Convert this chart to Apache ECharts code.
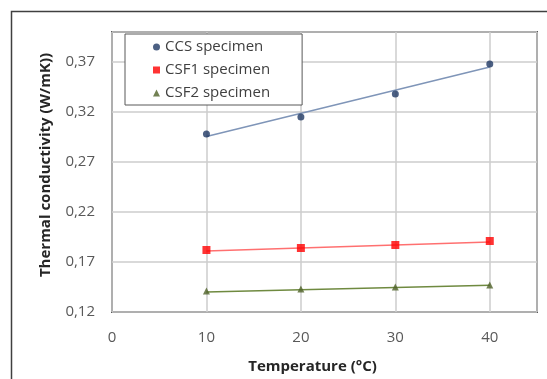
<!DOCTYPE html>
<html><head><meta charset="utf-8">
<script src="https://cdn.jsdelivr.net/npm/echarts@6/dist/echarts.min.js"></script>
<style>html,body{margin:0;padding:0;background:#fff}#c{width:547px;height:379px}</style>
</head><body><div id="c"></div>
<script>
const temperatures = [10, 20, 30, 40];
const ccsValues  = [0.298, 0.315, 0.338, 0.368];
const csf1Values = [0.182, 0.184, 0.187, 0.191];
const csf2Values = [0.141, 0.143, 0.145, 0.147];
// trend line end points (at 10 and 40 °C)
const trendX = [10, 40];
const ccsTrend  = [0.2955, 0.365];
const csf1Trend = [0.181, 0.190];
const csf2Trend = [0.140, 0.1467];
const seriesNames = ['CCS specimen', 'CSF1 specimen', 'CSF2 specimen'];
const xTickLabels = ['0', '10', '20', '30', '40'];
const yTickLabels = ['0,12', '0,17', '0,22', '0,27', '0,32', '0,37'];

const pts = (xs, ys) => xs.map((x, i) => [x, ys[i]]);
const font = 'Open Sans';
const chart = echarts.init(document.getElementById('c'));
chart.setOption({
  backgroundColor: '#fff',
  animation: false,
  graphic: [{
    type: 'rect', z: -1,
    shape: { x: 11.5, y: 11.5, width: 600, height: 400 },
    style: { fill: '#fff', stroke: '#404040', lineWidth: 1.5 }
  }],
  grid: { left: 112, right: 10, top: 32, bottom: 67, show: true, borderColor: '#595959', borderWidth: 2, backgroundColor: '#fff' },
  legend: {
    orient: 'vertical', left: 125, top: 34,
    data: [
      { name: seriesNames[0], icon: 'circle' },
      { name: seriesNames[1], icon: 'rect' },
      { name: seriesNames[2], icon: 'triangle' }
    ],
    itemWidth: 7, itemHeight: 7, itemGap: 7,
    padding: [5, 32, 4, 28],
    backgroundColor: '#fff', borderColor: '#595959', borderWidth: 1,
    textStyle: { fontFamily: font, fontSize: 15, color: '#404040', lineHeight: 16 }
  },
  xAxis: {
    type: 'value', min: 0, max: 45, interval: 10,
    name: 'Temperature (°C)', nameLocation: 'middle', nameGap: 47,
    nameTextStyle: { fontFamily: font, fontSize: 15, fontWeight: 'bold', color: '#262626', padding: [0, 24, 0, 0] },
    axisLine: { show: false }, axisTick: { show: false },
    axisLabel: { margin: 18, fontFamily: font, fontSize: 15, color: '#595959',
      formatter: v => { const i = xTickLabels.indexOf(String(Math.round(v))); return (Math.abs(v - Math.round(v)) < 1e-6 && Math.round(v) % 10 === 0 && i >= 0) ? xTickLabels[i] : ''; } },
    splitLine: { show: true, lineStyle: { color: '#cccccc', width: 1.5 } }
  },
  yAxis: {
    type: 'value', min: 0.12, max: 0.40, interval: 0.05,
    name: 'Thermal conductivity (W/mK))', nameLocation: 'middle', nameGap: 59,
    nameTextStyle: { fontFamily: font, fontSize: 15, fontWeight: 'bold', color: '#262626', padding: [0, 0, 0, 14] },
    axisLine: { show: false }, axisTick: { show: false },
    axisLabel: { margin: 17, fontFamily: font, fontSize: 15, color: '#595959',
      formatter: v => { const k = Math.round((v - 0.12) / 0.05); return (Math.abs(v - 0.12 - k * 0.05) < 1e-6 && yTickLabels[k]) ? yTickLabels[k] : ''; } },
    splitLine: { show: true, lineStyle: { color: '#cccccc', width: 1.5 } }
  },
  series: [
    { type: 'line', data: pts(trendX, ccsTrend), symbol: 'none', lineStyle: { color: '#7f95b8', width: 1.5 }, silent: true, z: 2 },
    { type: 'line', data: pts(trendX, csf1Trend), symbol: 'none', lineStyle: { color: '#ff7070', width: 1.5 }, silent: true, z: 2 },
    { type: 'line', data: pts(trendX, csf2Trend), symbol: 'none', lineStyle: { color: '#6f8a40', width: 1.5 }, silent: true, z: 2 },
    { name: seriesNames[0], type: 'scatter', data: pts(temperatures, ccsValues), symbol: 'circle', symbolSize: 7, itemStyle: { color: '#1f3864' }, z: 3 },
    { name: seriesNames[1], type: 'scatter', data: pts(temperatures, csf1Values), symbol: 'rect', symbolSize: 8, itemStyle: { color: '#ff0000' }, z: 3 },
    { name: seriesNames[2], type: 'scatter', data: pts(temperatures, csf2Values), symbol: 'triangle', symbolSize: 7, itemStyle: { color: '#4f6228' }, z: 3 }
  ]
});
</script></body></html>
